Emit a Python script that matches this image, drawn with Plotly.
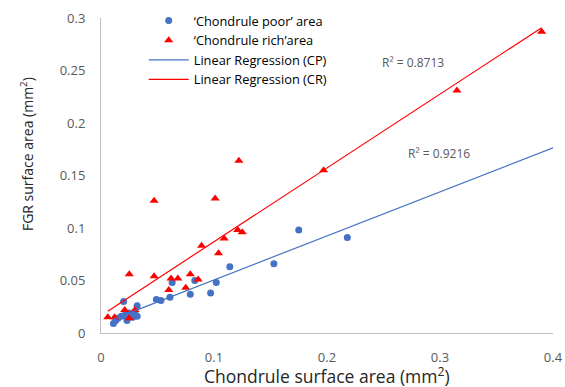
import numpy as np
import plotly.graph_objects as go

# 'Chondrule poor' area (CP)
cp_x = [0.011, 0.013, 0.015, 0.018, 0.021, 0.023, 0.025, 0.028, 0.020, 0.032, 0.032, 0.030,
        0.049, 0.053, 0.061, 0.063, 0.079, 0.083, 0.097, 0.102, 0.114, 0.153, 0.175, 0.218]
cp_y = [0.009, 0.012, 0.014, 0.016, 0.017, 0.012, 0.019, 0.015, 0.030, 0.026, 0.016, 0.020,
        0.032, 0.031, 0.034, 0.048, 0.037, 0.050, 0.038, 0.048, 0.063, 0.066, 0.098, 0.091]

# 'Chondrule rich' area (CR)
cr_x = [0.006, 0.012, 0.021, 0.025, 0.030, 0.025, 0.047, 0.047, 0.060, 0.062, 0.068, 0.075,
        0.079, 0.086, 0.089, 0.101, 0.104, 0.109, 0.121, 0.122, 0.125, 0.197, 0.315, 0.390]
cr_y = [0.015, 0.015, 0.022, 0.014, 0.022, 0.056, 0.126, 0.054, 0.041, 0.052, 0.052, 0.043,
        0.056, 0.051, 0.083, 0.128, 0.076, 0.090, 0.098, 0.164, 0.096, 0.155, 0.231, 0.287]

r2_labels = ["R² = 0.9216", "R² = 0.8713"]
x_ticks = [0, 0.1, 0.2, 0.3, 0.4]
y_ticks = [0, 0.05, 0.1, 0.15, 0.2, 0.25, 0.3]

BLUE = "#4472C4"
RED = "#FF0000"
FONT = "Open Sans"

cp_fit = np.polyfit(cp_x, cp_y, 1)
cr_fit = np.polyfit(cr_x, cr_y, 1)
cp_lx = np.array([min(cp_x), 0.4])
cr_lx = np.array([min(cr_x), max(cr_x)])

fig = go.Figure()
fig.add_trace(go.Scatter(x=cp_x, y=cp_y, mode="markers", name="‘Chondrule poor’ area",
                         marker=dict(color=BLUE, size=7, symbol="circle")))
fig.add_trace(go.Scatter(x=cr_x, y=cr_y, mode="markers", name="‘Chondrule rich’area",
                         marker=dict(color=RED, size=8, symbol="triangle-up")))
fig.add_trace(go.Scatter(x=cp_lx, y=np.polyval(cp_fit, cp_lx), mode="lines",
                         name="Linear Regression (CP)", line=dict(color=BLUE, width=1.2)))
fig.add_trace(go.Scatter(x=cr_lx, y=np.polyval(cr_fit, cr_lx), mode="lines",
                         name="Linear Regression (CR)", line=dict(color=RED, width=1.2)))

fig.add_annotation(x=0.2992, y=0.1714, text=r2_labels[0], showarrow=False,
                   font=dict(size=12, color="#595959", family=FONT))
fig.add_annotation(x=0.2761, y=0.258, text=r2_labels[1], showarrow=False,
                   font=dict(size=12, color="#595959", family=FONT))

# axis titles
fig.add_annotation(xref="paper", yref="paper", x=0.5, y=0, yshift=-42,
                   text="Chondrule surface area (mm<sup>2</sup>)", showarrow=False,
                   xanchor="center", yanchor="middle",
                   font=dict(size=17.5, color="#262626", family=FONT))
fig.add_annotation(xref="paper", yref="paper", x=0, y=0.568, xshift=-74,
                   text="FGR surface area (mm<sup>2</sup>)", showarrow=False, textangle=-90,
                   xanchor="center", yanchor="middle",
                   font=dict(size=14, color="#262626", family=FONT))

fig.update_layout(
    width=565, height=387,
    margin=dict(l=101, r=12, t=18, b=54, autoexpand=False),
    paper_bgcolor="white", plot_bgcolor="white",
    font=dict(family=FONT, color="#595959", size=12),
    showlegend=True,
    legend=dict(x=0.0945, y=1.039, xanchor="left", yanchor="top",
                bgcolor="rgba(0,0,0,0)", font=dict(size=12.8, color="#000000", family=FONT),
                tracegroupgap=0, itemwidth=40),
    xaxis=dict(range=[0, 0.4], tickvals=x_ticks, ticktext=[f"{v:g}" for v in x_ticks],
               showgrid=False, zeroline=False, showline=True, linecolor="#BFBFBF",
               linewidth=1, ticks="", automargin=False, ticklabelstandoff=12,
               ticklabeloverflow="allow",
               tickfont=dict(size=13, color="#595959")),
    yaxis=dict(range=[0, 0.3], tickvals=y_ticks, ticktext=[f"{v:g}" for v in y_ticks],
               showgrid=False, zeroline=False, showline=True, linecolor="#BFBFBF",
               linewidth=1, ticks="", automargin=False, ticklabelstandoff=12,
               tickfont=dict(size=13, color="#595959")),
)

# remove the default page margin so the 565x387 figure fills the window exactly
fig.write_html("out.html", config={"displayModeBar": False},
               post_script="document.body.style.margin='0';document.body.style.overflow='hidden';")
